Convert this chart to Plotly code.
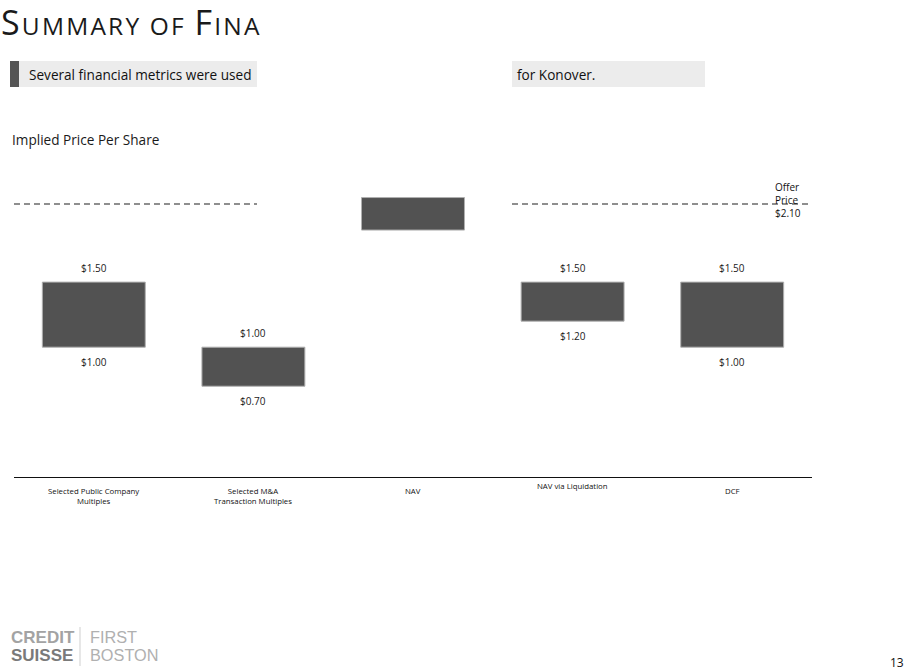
import plotly.graph_objects as go

W, H = 909, 672

# ---------------- data ----------------
categories = [
    "Selected Public Company<br>Multiples",
    "Selected M&A<br>Transaction Multiples",
    "NAV",
    "NAV via Liquidation",
    "DCF",
]
low_values = [1.00, 0.70, 1.90, 1.20, 1.00]
high_values = [1.50, 1.00, 2.15, 1.50, 1.50]
show_value_labels = [True, True, False, True, True]
offer_price = 2.10
offer_label = "Offer<br>Price<br>$2.10"

# ---------------- helpers (pixel -> paper) ----------------
def px(x):
    return x / W

def py(y):
    return 1 - y / H

FONT = "Open Sans"
BAR_COLOR = "#525252"

idx = list(range(len(categories)))

fig = go.Figure()
fig.add_trace(
    go.Bar(
        x=idx,
        y=[h - l for h, l in zip(high_values, low_values)],
        base=low_values,
        width=0.645,
        marker=dict(color=BAR_COLOR, line=dict(color="#b0b0b0", width=1)),
        hoverinfo="skip",
        showlegend=False,
    )
)

annotations = []
# value labels
for i, (lo, hi, show) in enumerate(zip(low_values, high_values, show_value_labels)):
    if not show:
        continue
    annotations.append(dict(x=i, y=hi, xref="x", yref="y", text=f"${hi:.2f}",
                            showarrow=False, yshift=14, font=dict(size=10, color="#1a1a1a", family=FONT)))
    annotations.append(dict(x=i, y=lo, xref="x", yref="y", text=f"${lo:.2f}",
                            showarrow=False, yshift=-15, font=dict(size=10, color="#1a1a1a", family=FONT)))

# category labels
for i, c in enumerate(categories):
    top = 479 if c == "NAV via Liquidation" else 484
    annotations.append(dict(x=i, y=py(top), xref="x", yref="paper", text=c, showarrow=False,
                            yanchor="top", xanchor="center", align="center",
                            font=dict(size=7.8, color="#111", family=FONT)))

# offer price label
annotations.append(dict(x=px(773), y=py(178), xref="paper", yref="paper", text=offer_label,
                        showarrow=False, xanchor="left", yanchor="top", align="left",
                        font=dict(size=10, color="#111", family=FONT)))

# title (small caps)
annotations.append(dict(
    x=px(-1), y=py(-3), xref="paper", yref="paper", xanchor="left", yanchor="top", showarrow=False,
    text=("<span style='letter-spacing:2.2px'>S<span style='font-size:24.5px'>UMMARY OF </span>"
          "F<span style='font-size:24.5px'>INA</span></span>"),
    font=dict(size=34, color="#1a1a1a", family=FONT)))

# banner text
annotations.append(dict(x=px(27), y=py(74), xref="paper", yref="paper", xanchor="left", yanchor="middle",
                        showarrow=False, text="Several financial metrics were used",
                        font=dict(size=13.6, color="#111", family=FONT)))
annotations.append(dict(x=px(515), y=py(74), xref="paper", yref="paper", xanchor="left", yanchor="middle",
                        showarrow=False, text="for Konover.",
                        font=dict(size=13.6, color="#111", family=FONT)))

# subtitle
annotations.append(dict(x=px(10), y=py(139), xref="paper", yref="paper", xanchor="left", yanchor="middle",
                        showarrow=False, text="Implied Price Per Share",
                        font=dict(size=13.6, color="#1a1a1a", family=FONT)))

# logo
LOGO_FONT = "Liberation Sans"
annotations.append(dict(x=px(9), y=py(637), xref="paper", yref="paper", xanchor="left", yanchor="middle",
                        showarrow=False, text="<b>CREDIT</b>",
                        font=dict(size=17, color="#a3a3a3", family=LOGO_FONT)))
annotations.append(dict(x=px(9), y=py(655), xref="paper", yref="paper", xanchor="left", yanchor="middle",
                        showarrow=False, text="<b>SUISSE</b>",
                        font=dict(size=17, color="#7a7a7a", family=LOGO_FONT)))
annotations.append(dict(x=px(88), y=py(637), xref="paper", yref="paper", xanchor="left", yanchor="middle",
                        showarrow=False, text="FIRST",
                        font=dict(size=16.3, color="#b0b0b0", family=LOGO_FONT)))
annotations.append(dict(x=px(88), y=py(655), xref="paper", yref="paper", xanchor="left", yanchor="middle",
                        showarrow=False, text="BOSTON",
                        font=dict(size=16.3, color="#b0b0b0", family=LOGO_FONT)))

# page number
annotations.append(dict(x=px(906), y=py(662), xref="paper", yref="paper", xanchor="right", yanchor="middle",
                        showarrow=False, text="13", font=dict(size=12, color="#111", family=FONT)))

shapes = [
    # banner
    dict(type="rect", xref="paper", yref="paper", x0=px(10), x1=px(257), y0=py(61), y1=py(87),
         fillcolor="#ececec", line=dict(width=0), layer="below"),
    dict(type="rect", xref="paper", yref="paper", x0=px(10), x1=px(19), y0=py(61), y1=py(87),
         fillcolor="#555555", line=dict(width=0), layer="below"),
    dict(type="rect", xref="paper", yref="paper", x0=px(512), x1=px(705), y0=py(61), y1=py(87),
         fillcolor="#ececec", line=dict(width=0), layer="below"),
    # offer price dashed line (partly hidden in the middle)
    dict(type="line", xref="paper", yref="y", x0=px(14), x1=px(257), y0=offer_price, y1=offer_price,
         line=dict(color="#6a6a6a", width=1.5, dash="6px,4px"), layer="below"),
    dict(type="line", xref="paper", yref="y", x0=px(512), x1=px(811), y0=offer_price, y1=offer_price,
         line=dict(color="#6a6a6a", width=1.5, dash="6px,4px"), layer="below"),
    # logo separator
    dict(type="line", xref="paper", yref="paper", x0=px(80), x1=px(80), y0=py(627), y1=py(666),
         line=dict(color="#cfcfcf", width=1)),
]

fig.update_layout(
    width=W, height=H,
    margin=dict(l=0, r=0, t=0, b=0),
    paper_bgcolor="white",
    plot_bgcolor="rgba(0,0,0,0)",
    showlegend=False,
    xaxis=dict(domain=[px(14), px(812)], range=[-0.5, len(categories) - 0.5],
               showticklabels=False, showgrid=False, zeroline=False, ticks="",
               showline=True, linecolor="#111", linewidth=1.2, fixedrange=True),
    yaxis=dict(domain=[py(477.3), py(152)], range=[0, 2.5], visible=False, fixedrange=True),
    annotations=annotations,
    shapes=shapes,
)

fig.write_html("out.html", config={"displayModeBar": False})

# remove the default page margin so the figure sits at the window's top-left corner
with open("out.html", "r", encoding="utf-8") as f:
    html = f.read()
html = html.replace("<head>", "<head><style>html,body{margin:0;padding:0;overflow:hidden;}</style>", 1)
with open("out.html", "w", encoding="utf-8") as f:
    f.write(html)
